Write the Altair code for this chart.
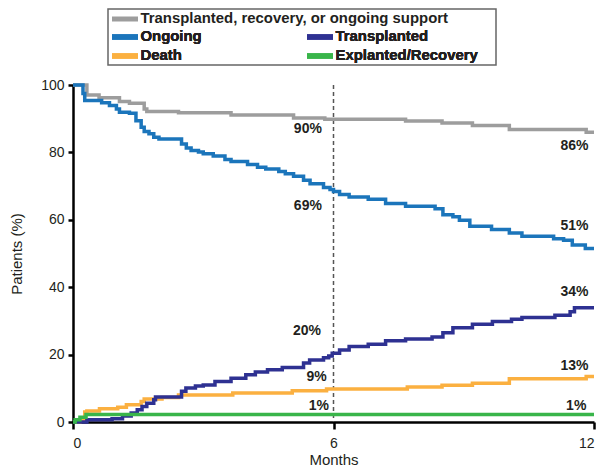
import altair as alt
import pandas as pd

FONT = "Liberation Sans, Arial, Helvetica, sans-serif"
TXT = "#231f20"

S_ALL = "Transplanted, recovery, or ongoing support"
S_ONG = "Ongoing"
S_TX = "Transplanted"
S_DEATH = "Death"
S_EXP = "Explanted/Recovery"

C_ALL = "#9d9d9d"
C_ONG = "#1b75bb"
C_TX = "#2e3192"
C_DEATH = "#fbb040"
C_EXP = "#39b54a"

# Step curves (month at which the level starts, percent)
all_t = [0, 0.32, 0.6, 1.07, 1.3, 1.64, 1.7, 2.43, 3.64, 5.08, 5.8, 7.66, 8.5, 9.2, 10.05, 11.82, 12]
all_v = [100, 97.0, 96.2, 95.1, 94.6, 92.9, 92.1, 91.8, 91.1, 90.2, 89.8, 89.3, 88.7, 88.0, 86.8, 86.0, 86.0]

ong_t = [0, 0.23, 0.27, 0.66, 0.84, 1.0, 1.07, 1.3, 1.45, 1.57, 1.64, 1.75, 1.86, 1.98, 2.5, 2.61,
         2.72, 2.89, 3.0, 3.23, 3.5, 3.64, 4.02, 4.25, 4.44, 4.74, 4.89, 5.08, 5.31, 5.46, 5.77, 5.92,
         6.0, 6.14, 6.36, 6.8, 7.2, 7.66, 8.34, 8.52, 8.75, 8.9, 9.14, 9.64, 10.05, 10.34, 11.07, 11.3,
         11.5, 11.8, 12]
ong_v = [100, 97.5, 95.4, 94.7, 93.9, 92.9, 91.9, 91.6, 89.4, 87.5, 86.2, 85.5, 84.5, 84.0, 82.5, 81.3,
         80.6, 80.1, 79.6, 78.9, 77.9, 77.3, 76.4, 75.6, 75.1, 74.3, 73.7, 72.9, 71.7, 70.7, 69.6, 69.0,
         68.4, 67.5, 66.8, 66.1, 64.8, 64.0, 63.3, 61.5, 60.9, 59.9, 58.1, 57.1, 56.1, 55.1, 54.4, 53.9,
         52.5, 51.5, 51.5]

tx_t = [0, 0.32, 0.9, 1.14, 1.34, 1.48, 1.59, 1.7, 1.86, 1.9, 2.5, 2.6, 2.82, 3.0, 3.27, 3.64, 3.98,
        4.2, 4.48, 4.82, 5.31, 5.45, 5.77, 5.89, 5.97, 6.14, 6.36, 6.8, 7.2, 7.66, 8.27, 8.52, 8.75,
        9.2, 9.66, 10.1, 10.34, 11.1, 11.45, 11.55, 12]
tx_v = [0, 0.7, 1.0, 1.8, 2.7, 3.6, 4.6, 5.6, 6.6, 7.4, 9.1, 10.1, 10.7, 11.0, 12.0, 13.0, 14.0,
        14.8, 15.5, 16.2, 17.5, 18.4, 19.1, 19.6, 20.4, 21.4, 22.4, 23.1, 24.1, 24.6, 25.2, 26.5, 28.0,
        29.0, 29.8, 30.5, 31.0, 31.7, 32.7, 33.9, 33.9]

death_t = [0, 0.16, 0.27, 0.32, 0.61, 1.03, 1.23, 1.57, 1.64, 2.05, 2.43, 3.68, 5.05, 5.84, 7.7, 8.5,
           9.2, 10.05, 11.82, 12]
death_v = [0, 0.7, 3.0, 3.3, 3.9, 4.4, 5.1, 6.1, 6.8, 7.3, 8.0, 8.6, 9.3, 9.8, 10.4, 10.9,
           11.5, 12.8, 13.5, 13.5]

exp_t = [0, 0.05, 0.16, 0.3, 12]
exp_v = [0, 0.7, 1.4, 2.2, 2.2]

# Annotations
ann_text = ["90%", "69%", "20%", "9%", "1%", "86%", "51%", "34%", "13%", "1%"]
ann_x = [5.41, 5.41, 5.39, 5.61, 5.66, 11.55, 11.55, 11.55, 11.55, 11.59]
ann_y = [87.0, 64.2, 26.9, 13.3, 4.6, 82.0, 58.1, 38.5, 16.6, 4.6]

landmark = [6]


def frame(name, t, v):
    return pd.DataFrame({"series": name, "month": t, "pct": v, "ord": list(range(len(t)))})


xenc = alt.X("month:Q", scale=alt.Scale(domain=[0, 12], nice=False),
             axis=alt.Axis(values=[0, 6, 12], title="Months", tickSize=7, labelPadding=7,
                           labelFontSize=14, titleFontSize=15, titlePadding=2, format="d"))
yenc = alt.Y("pct:Q", scale=alt.Scale(domain=[0, 100], nice=False),
             axis=alt.Axis(values=[0, 20, 40, 60, 80, 100], title="Patients (%)", tickSize=5,
                           labelPadding=4, labelFontSize=14, titleFontSize=15, titlePadding=16))

# wide horizontal bar as legend symbol (twice the nominal symbol width)
legend_common = dict(orient="none", title=None, symbolType="M-2,0L2,0", symbolStrokeWidth=5,
                     symbolSize=169, labelOffset=6.5, labelFontSize=14.9, labelFontWeight="bold",
                     labelFont=FONT, labelColor=TXT, padding=0, labelLimit=400)

stroke_scale = alt.Scale(domain=[S_ALL], range=[C_ALL])
color_scale = alt.Scale(domain=[S_ONG, S_DEATH, S_TX, S_EXP], range=[C_ONG, C_DEATH, C_TX, C_EXP])

line_kw = dict(interpolate="step-after", strokeWidth=3.5)

gray = alt.Chart(frame(S_ALL, all_t, all_v)).mark_line(**line_kw).encode(
    x=xenc, y=yenc, order="ord:Q",
    stroke=alt.Stroke("series:N", scale=stroke_scale,
                      legend=alt.Legend(legendX=43, legendY=-75, **legend_common)))


def series_layer(name, t, v):
    return alt.Chart(frame(name, t, v)).mark_line(**line_kw).encode(
        x=xenc, y=yenc, order="ord:Q",
        color=alt.Color("series:N", scale=color_scale,
                        legend=alt.Legend(legendX=43, legendY=-57, columns=2, rowPadding=-2,
                                          columnPadding=95, **legend_common)))


ong = series_layer(S_ONG, ong_t, ong_v)
death = series_layer(S_DEATH, death_t, death_v)
tx = series_layer(S_TX, tx_t, tx_v)
exp = series_layer(S_EXP, exp_t, exp_v)

rule = alt.Chart(pd.DataFrame({"month": landmark})).mark_rule(
    color="#555555", strokeWidth=1.5, strokeDash=[4, 3]).encode(x=alt.X("month:Q"))

labels = alt.Chart(pd.DataFrame({"t": ann_text, "month": ann_x, "pct": ann_y})).mark_text(
    font=FONT, fontSize=14, fontWeight="bold", color=TXT, align="center", baseline="middle").encode(
    x="month:Q", y="pct:Q", text="t:N")

box = alt.Chart(pd.DataFrame({"k": [0]})).mark_rect(
    filled=False, stroke="#666666", strokeWidth=1.5).encode(
    x=alt.value(35), x2=alt.value(423), y=alt.value(-76), y2=alt.value(-20))

chart = alt.layer(rule, gray, ong, death, tx, exp, labels, box).resolve_legend(
    color="independent", stroke="independent").properties(
    width=521, height=337,
    padding={"left": 65, "top": 77, "right": 8, "bottom": 48},
    autosize=alt.AutoSizeParams(type="none"),
).configure_view(stroke=None).configure_axis(
    grid=False, domainColor="#000000", domainWidth=2.5, tickColor="#000000", tickWidth=2.5,
    labelFont=FONT, titleFont=FONT, labelColor=TXT, titleColor=TXT, titleFontWeight="normal",
)

chart.save("out.html", embed_options={"renderer": "svg", "actions": False})
